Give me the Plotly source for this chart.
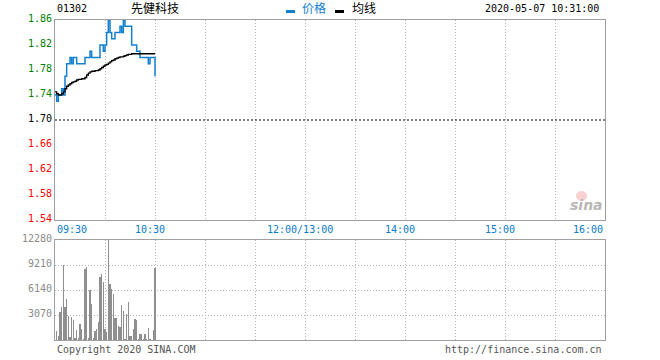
import plotly.graph_objects as go

# ---------------- data ----------------
stock_code = "01302"
stock_name = "先健科技"
timestamp = "2020-05-07 10:31:00"
prev_close = 1.70
legend_names = ["价格", "均线"]

# minutes since 09:30 (trading session minutes, lunch break collapsed)
minutes = list(range(61))
price = [1.74, 1.73, 1.74, 1.74, 1.75, 1.74, 1.77, 1.79, 1.79, 1.80,
         1.79, 1.80, 1.80, 1.79, 1.79, 1.79, 1.79, 1.79, 1.80, 1.80,
         1.80, 1.81, 1.80, 1.80, 1.80, 1.80, 1.80, 1.82, 1.82, 1.81,
         1.82, 1.84, 1.86, 1.84, 1.83, 1.83, 1.84, 1.84, 1.84, 1.85,
         1.84, 1.86, 1.85, 1.85, 1.85, 1.85, 1.82, 1.82, 1.82, 1.81,
         1.81, 1.80, 1.80, 1.80, 1.80, 1.80, 1.79, 1.80, 1.80, 1.80,
         1.77]
avg_price = [1.745, 1.742, 1.740, 1.740, 1.742, 1.745, 1.750, 1.754, 1.756, 1.758,
             1.760, 1.761, 1.762, 1.764, 1.765, 1.765, 1.766, 1.766, 1.768, 1.772,
             1.775, 1.777, 1.778, 1.778, 1.779, 1.779, 1.780, 1.782, 1.784, 1.786,
             1.788, 1.789, 1.791, 1.793, 1.795, 1.796, 1.798, 1.799, 1.800, 1.801,
             1.801, 1.802, 1.803, 1.804, 1.805, 1.805, 1.806, 1.806, 1.806, 1.806,
             1.806, 1.806, 1.806, 1.806, 1.806, 1.806, 1.806, 1.806, 1.806, 1.806,
             1.806]
volume = [0, 1105, 491, 3438, 4052, 9210, 4052, 5035, 2988, 368,
          2865, 2456, 287, 1228, 287, 1965, 1351, 123, 8718, 8923,
          287, 6140, 4420, 287, 1146, 1310, 2210, 7777, 8104, 7122,
          1392, 982, 12280, 6876, 6262, 5648, 2742, 2701, 1760, 1637,
          4298, 3602, 123, 3233, 4666, 491, 491, 1392, 2579, 2456,
          164, 737, 696, 164, 696, 164, 1473, 123, 0, 1228,
          8800]

price_ticks = [1.54, 1.58, 1.62, 1.66, 1.70, 1.74, 1.78, 1.82, 1.86]
vol_ticks = [3070, 6140, 9210, 12280]
session_minutes = 330
grid_minutes = [30, 60, 90, 120, 150, 180, 210, 240, 270, 300]
time_tick_pos = [0, 60, 150, 210, 270, 330]
time_tick_labels = ["09:30", "10:30", "12:00/13:00", "14:00", "15:00", "16:00"]

# ---------------- styling ----------------
MONO = "DejaVu Sans Mono"
CJK = "Noto Sans CJK SC"
GREEN = "#008000"
RED = "#ff0000"
BLUE = "#1380cf"
GRID = "#b4b4b4"
FRAME = "#a0a0a0"
DOT = "1px,2px"
LSHIFT = -2

L, R, T, B = 55, 55, 20, 20
W, H = 660, 360
PW, PH = W - L - R, H - T - B


def py(ypix):
    return (H - B - ypix) / PH


def px(xpix):
    return (xpix - L) / PW


def price_label(p):
    s = f"{p:.2f}"
    if abs(p - prev_close) < 1e-9:
        return s
    c = GREEN if p > prev_close else RED
    return f'<span style="color:{c}">{s}</span>'


def pct_label(p):
    pct = (p - prev_close) / prev_close * 100
    if abs(pct) < 1e-9:
        return "\u00a00.00%"
    c = GREEN if pct > 0 else RED
    return f'<span style="color:{c}">{pct:+.2f}%</span>'


fig = go.Figure()

fig.add_trace(go.Scatter(x=minutes, y=price, mode="lines", line_shape="hv",
                         line=dict(color=BLUE, width=1.5), name=legend_names[0],
                         xaxis="x", yaxis="y", showlegend=False))
fig.add_trace(go.Scatter(x=minutes, y=avg_price, mode="lines", line_shape="hv",
                         line=dict(color="#000000", width=1.3), name=legend_names[1],
                         xaxis="x", yaxis="y", showlegend=False))
fig.add_trace(go.Bar(x=minutes, y=volume, width=0.72,
                     marker=dict(color="#8f8f8f", line=dict(width=0)),
                     xaxis="x2", yaxis="y3", showlegend=False))

main_dom = [py(220), 1.0]
vol_dom = [0.0, py(240)]

common_x = dict(range=[0, session_minutes], tickmode="array", tickvals=grid_minutes,
                showticklabels=False, ticks="", showgrid=True, gridcolor=GRID,
                griddash=DOT, gridwidth=1, zeroline=False, showline=True,
                linecolor=FRAME, linewidth=1, mirror=True, fixedrange=True)

fig.update_layout(
    width=W, height=H, margin=dict(l=L, r=R, t=T, b=B),
    paper_bgcolor="white", plot_bgcolor="white",
    xaxis=dict(**common_x, anchor="y", domain=[0, 1]),
    xaxis2=dict(**common_x, anchor="y3", domain=[0, 1]),
    yaxis=dict(domain=main_dom, range=[price_ticks[0], price_ticks[-1]], anchor="x",
               tickmode="array", tickvals=price_ticks,
               ticktext=[price_label(p) for p in price_ticks],
               tickfont=dict(family=MONO, size=10, color="#000000"),
               showgrid=False, zeroline=False, ticks="", showline=True,
               linecolor=FRAME, linewidth=1, mirror=True, ticklabelshift=LSHIFT,
               ticklabelstandoff=0, fixedrange=True),
    yaxis2=dict(domain=main_dom, range=[price_ticks[0], price_ticks[-1]], anchor="x",
                overlaying="y", side="right",
                tickmode="array", tickvals=price_ticks,
                ticktext=[pct_label(p) for p in price_ticks],
                tickfont=dict(family=MONO, size=10, color="#000000"),
                showgrid=False, zeroline=False, ticks="", ticklabelshift=LSHIFT,
                ticklabelstandoff=0, fixedrange=True),
    yaxis4=dict(domain=main_dom, range=[price_ticks[0], price_ticks[-1]], anchor="x",
                overlaying="y", tickmode="array",
                tickvals=[p for p in price_ticks[1:-1] if abs(p - prev_close) > 1e-9],
                showticklabels=False, ticks="", showgrid=True, gridcolor=GRID,
                griddash=DOT, zeroline=False, showline=False, fixedrange=True),
    yaxis3=dict(domain=vol_dom, range=[0, vol_ticks[-1]], anchor="x2",
                tickmode="array", tickvals=vol_ticks, ticktext=[str(v) for v in vol_ticks],
                tickfont=dict(family=MONO, size=10, color="#8a8a8a"),
                showgrid=True, gridcolor=GRID, griddash=DOT, zeroline=False, ticks="",
                showline=True, linecolor=FRAME, linewidth=1, mirror=True,
                ticklabelshift=LSHIFT, ticklabelstandoff=0, fixedrange=True),
    bargap=0,
)

# previous close dashed line
fig.add_shape(type="line", xref="x domain", x0=0, x1=1, yref="y",
              y0=prev_close, y1=prev_close, line=dict(color="#000000", width=1, dash="2px,2px"))

ann = []
# header
ann.append(dict(text=stock_code, x=px(55), y=py(9), xanchor="left", yanchor="middle",
                font=dict(family=MONO, size=10, color="#000000")))
ann.append(dict(text=stock_name, x=px(129), y=py(8), xanchor="left", yanchor="middle",
                font=dict(family=CJK, size=12, color="#000000")))
ann.append(dict(text=legend_names[0], x=px(300), y=py(8), xanchor="left", yanchor="middle",
                font=dict(family=CJK, size=12, color=BLUE)))
ann.append(dict(text=legend_names[1], x=px(350), y=py(8), xanchor="left", yanchor="middle",
                font=dict(family=CJK, size=12, color="#000000")))
ann.append(dict(text=timestamp, x=px(601), y=py(9), xanchor="right", yanchor="middle",
                font=dict(family=MONO, size=10, color="#000000")))
# time labels
for pos, lab in zip(time_tick_pos, time_tick_labels):
    if pos == 0:
        xa, xs = "left", 0
    elif pos == session_minutes:
        xa, xs = "right", 0
    else:
        xa, xs = "center", -5.5
    ann.append(dict(text=lab, x=pos, xref="x", y=py(229), xanchor=xa, xshift=xs,
                    yanchor="middle", font=dict(family=MONO, size=10, color="#0a7cc8")))
# footer
ann.append(dict(text="Copyright 2020 SINA.COM", x=px(55), y=py(349), xanchor="left",
                yanchor="middle", font=dict(family=MONO, size=10, color="#555555")))
ann.append(dict(text="http://finance.sina.com.cn", x=px(604), y=py(349), xanchor="right",
                yanchor="middle", font=dict(family=MONO, size=10, color="#555555")))
# watermark
ann.append(dict(text="<b><i>sina</i></b>", x=px(586), y=py(205), xanchor="center",
                yanchor="middle", font=dict(family="DejaVu Sans", size=14, color="#b8b8b8")))

for a in ann:
    a.setdefault("xref", "paper")
    a["yref"] = "paper"
    a["showarrow"] = False
fig.update_layout(annotations=ann)

# legend marks + watermark eye
fig.add_shape(type="rect", xref="paper", yref="paper", x0=px(286), x1=px(295),
              y0=py(13), y1=py(10), fillcolor=BLUE, line=dict(width=0))
fig.add_shape(type="rect", xref="paper", yref="paper", x0=px(335), x1=px(344),
              y0=py(13), y1=py(10), fillcolor="#000000", line=dict(width=0))
fig.add_shape(type="circle", xref="paper", yref="paper", x0=px(576), x1=px(587),
              y0=py(201), y1=py(191), fillcolor="rgba(240,150,150,0.45)",
              line=dict(width=0))

fig.write_html("out.html", config={"displayModeBar": False, "staticPlot": True},
               post_script="document.body.style.margin='0px';document.body.style.overflow='hidden';")
